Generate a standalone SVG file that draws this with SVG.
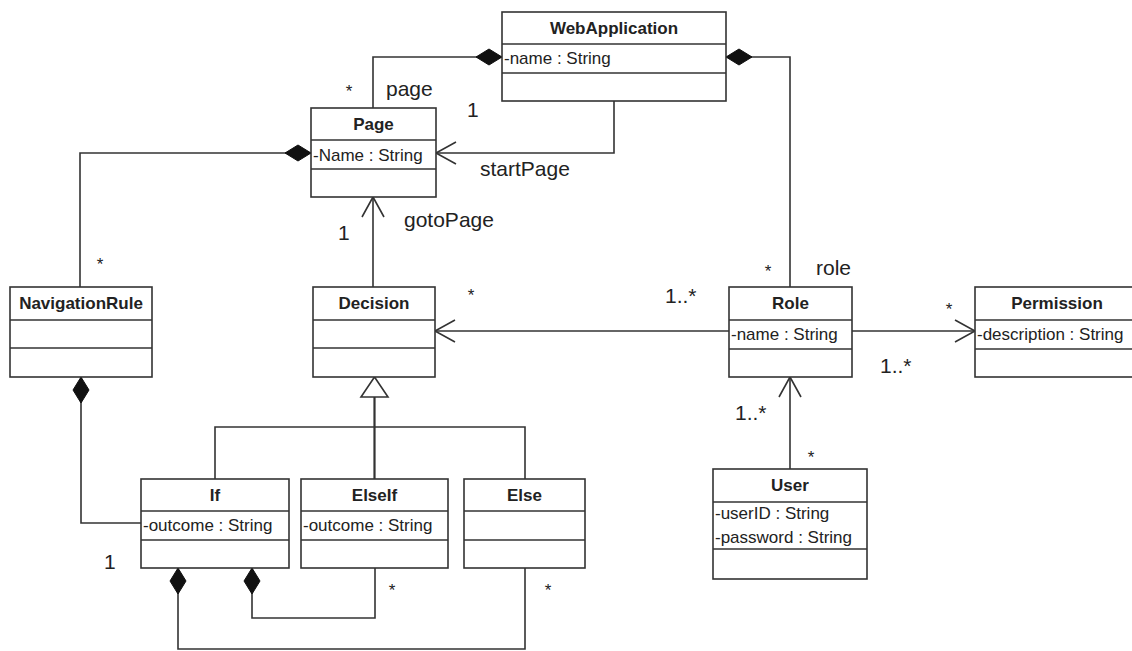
<svg xmlns="http://www.w3.org/2000/svg" width="1132" height="651" viewBox="0 0 1132 651">
<style>
.box{fill:#fff;stroke:#333;stroke-width:1.6}
.div{stroke:#333;stroke-width:1.6}
.title{font-family:"Liberation Sans",Arial,sans-serif;font-weight:bold;font-size:17px;fill:#222;text-anchor:middle}
.attr{font-family:"Liberation Sans",Arial,sans-serif;font-size:17px;fill:#222}
.lbl{font-family:"Liberation Sans",Arial,sans-serif;font-size:21px;fill:#222}
.mult{font-family:"Liberation Sans",Arial,sans-serif;font-size:17px;fill:#222}
.conn{fill:none;stroke:#333;stroke-width:1.6}
</style>
<defs>
<marker id="diamond" markerUnits="userSpaceOnUse" markerWidth="28" markerHeight="18" viewBox="0 0 28 18" refX="27" refY="9" orient="auto">
<path d="M1,9 L14,1 L27,9 L14,17 z" fill="#111" stroke="#111" stroke-width="1"/>
</marker>
<marker id="open" markerUnits="userSpaceOnUse" markerWidth="24" markerHeight="26" viewBox="0 0 24 26" refX="22" refY="13" orient="auto">
<path d="M2,2 L22,13 L2,24" fill="none" stroke="#333" stroke-width="1.6"/>
</marker>
</defs>
<rect width="1132" height="651" fill="#fff"/>

<g id="connectors">
<path class="conn" d="M373,108 V57 H502" marker-end="url(#diamond)"/>
<path class="conn" d="M614,101 V153 H436" marker-end="url(#open)"/>
<path class="conn" d="M790,287 V57 H726" marker-end="url(#diamond)"/>
<path class="conn" d="M80,287 V153 H311" marker-end="url(#diamond)"/>
<path class="conn" d="M373,287 V197" marker-end="url(#open)"/>
<path class="conn" d="M729,331 H435" marker-end="url(#open)"/>
<path class="conn" d="M852,331 H975" marker-end="url(#open)"/>
<path class="conn" d="M790,469 V377" marker-end="url(#open)"/>
<path class="conn" d="M215,479 V427 H525 V479"/>
<path class="conn" d="M374.5,479 V397" style="stroke-width:2.2"/>
<polygon points="374.5,377 361,397 388,397" fill="#fff" stroke="#333" stroke-width="1.6"/>
<path class="conn" d="M141,523 H81 V377" marker-end="url(#diamond)"/>
<path class="conn" d="M375,568 V618 H252 V568" marker-end="url(#diamond)"/>
<path class="conn" d="M525,568 V649 H178 V568" marker-end="url(#diamond)"/>
</g>

<g id="labels">
<text class="mult" x="349" y="97" text-anchor="middle">*</text>
<text class="lbl" x="386" y="96">page</text>
<text class="lbl" x="467" y="117">1</text>
<text class="lbl" x="480" y="176">startPage</text>
<text class="mult" x="100" y="270" text-anchor="middle">*</text>
<text class="lbl" x="338" y="240">1</text>
<text class="lbl" x="404" y="227">gotoPage</text>
<text class="mult" x="768" y="277" text-anchor="middle">*</text>
<text class="lbl" x="816" y="275">role</text>
<text class="mult" x="471" y="301" text-anchor="middle">*</text>
<text class="lbl" x="665" y="303">1..*</text>
<text class="mult" x="949" y="315" text-anchor="middle">*</text>
<text class="lbl" x="880" y="373">1..*</text>
<text class="lbl" x="735" y="420">1..*</text>
<text class="mult" x="811" y="463" text-anchor="middle">*</text>
<text class="lbl" x="104" y="569">1</text>
<text class="mult" x="392" y="596" text-anchor="middle">*</text>
<text class="mult" x="548" y="596" text-anchor="middle">*</text>
</g>

<g id="WebApplication">
<rect class="box" x="502" y="12" width="224" height="89"/>
<line class="div" x1="502" y1="44" x2="726" y2="44"/>
<line class="div" x1="502" y1="73" x2="726" y2="73"/>
<text class="title" x="614" y="34">WebApplication</text>
<text class="attr" x="504" y="64">-name : String</text>
</g>

<g id="Page">
<rect class="box" x="311" y="108" width="125" height="89"/>
<line class="div" x1="311" y1="140" x2="436" y2="140"/>
<line class="div" x1="311" y1="169" x2="436" y2="169"/>
<text class="title" x="373.5" y="130">Page</text>
<text class="attr" x="313" y="160.5">-Name : String</text>
</g>

<g id="NavigationRule">
<rect class="box" x="10" y="287" width="142" height="90"/>
<line class="div" x1="10" y1="320" x2="152" y2="320"/>
<line class="div" x1="10" y1="348" x2="152" y2="348"/>
<text class="title" x="81" y="309">NavigationRule</text>
</g>

<g id="Decision">
<rect class="box" x="313" y="287" width="122" height="90"/>
<line class="div" x1="313" y1="320" x2="435" y2="320"/>
<line class="div" x1="313" y1="348" x2="435" y2="348"/>
<text class="title" x="374" y="309">Decision</text>
</g>

<g id="Role">
<rect class="box" x="729" y="287" width="123" height="90"/>
<line class="div" x1="729" y1="320" x2="852" y2="320"/>
<line class="div" x1="729" y1="349" x2="852" y2="349"/>
<text class="title" x="790.5" y="309">Role</text>
<text class="attr" x="731" y="340">-name : String</text>
</g>

<g id="Permission">
<rect class="box" x="975" y="287" width="165" height="90"/>
<line class="div" x1="975" y1="320" x2="1140" y2="320"/>
<line class="div" x1="975" y1="349" x2="1140" y2="349"/>
<text class="title" x="1057" y="309">Permission</text>
<text class="attr" x="977" y="340">-description : String</text>
</g>

<g id="User">
<rect class="box" x="713" y="469" width="154" height="110"/>
<line class="div" x1="713" y1="502" x2="867" y2="502"/>
<line class="div" x1="713" y1="549" x2="867" y2="549"/>
<text class="title" x="790" y="491">User</text>
<text class="attr" x="715" y="519">-userID : String</text>
<text class="attr" x="715" y="543">-password : String</text>
</g>

<g id="If">
<rect class="box" x="141" y="479" width="148" height="89"/>
<line class="div" x1="141" y1="511" x2="289" y2="511"/>
<line class="div" x1="141" y1="540" x2="289" y2="540"/>
<text class="title" x="215" y="501">If</text>
<text class="attr" x="143" y="531">-outcome : String</text>
</g>

<g id="ElseIf">
<rect class="box" x="301" y="479" width="147" height="89"/>
<line class="div" x1="301" y1="511" x2="448" y2="511"/>
<line class="div" x1="301" y1="540" x2="448" y2="540"/>
<text class="title" x="374.5" y="501">ElseIf</text>
<text class="attr" x="303" y="531">-outcome : String</text>
</g>

<g id="Else">
<rect class="box" x="464" y="479" width="121" height="89"/>
<line class="div" x1="464" y1="511" x2="585" y2="511"/>
<line class="div" x1="464" y1="540" x2="585" y2="540"/>
<text class="title" x="524.5" y="501">Else</text>
</g>
</svg>
